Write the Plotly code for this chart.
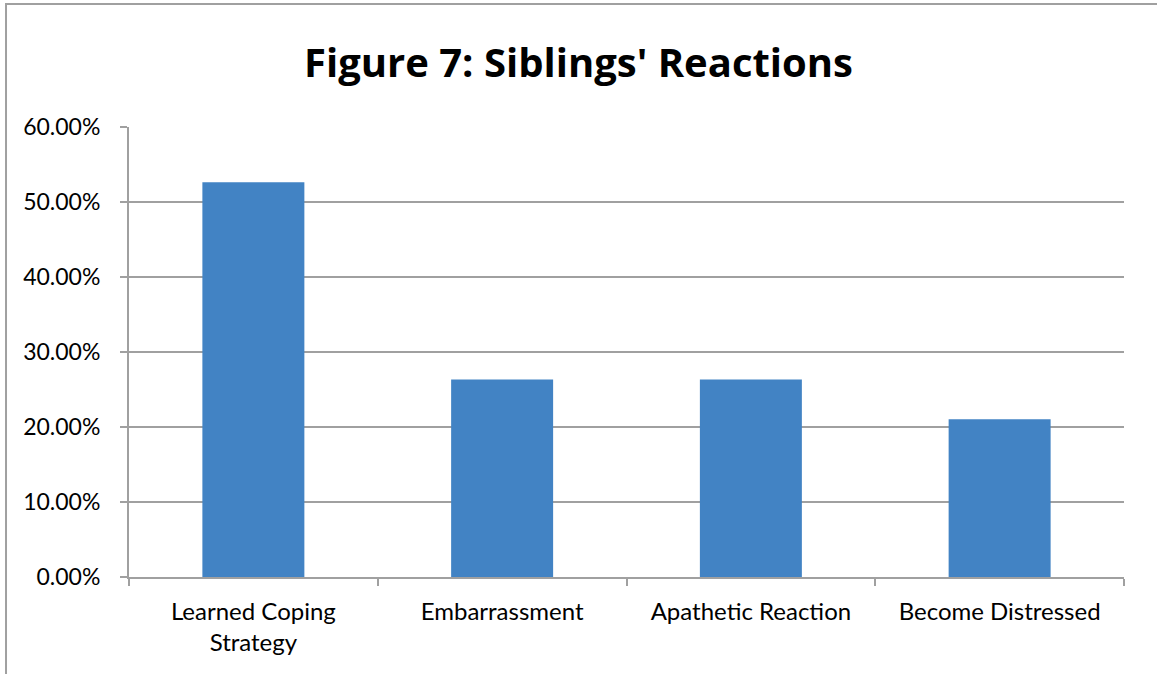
import plotly.graph_objects as go

categories = ["Learned Coping<br>Strategy", "Embarrassment", "Apathetic Reaction", "Become Distressed"]
shares = [0.5263, 0.2632, 0.2632, 0.2105]
y_ticks = [0, 0.1, 0.2, 0.3, 0.4, 0.5, 0.6]

fig = go.Figure(go.Bar(
    x=categories,
    y=shares,
    marker=dict(color="#4283c4", line=dict(width=0)),
))

fig.update_xaxes(
    showgrid=False,
    showline=True, linecolor="#a0a0a0", linewidth=2,
    ticks="outside", ticklen=7, tickcolor="#a0a0a0", tickwidth=2,
    tickson="boundaries",
    ticklabelstandoff=12,
    tickfont=dict(size=24, color="black"),
)

fig.update_yaxes(
    range=[0, 0.6],
    tickvals=y_ticks,
    tickformat=".2%",
    showgrid=True, gridcolor="#a0a0a0", gridwidth=2,
    zeroline=False,
    showline=True, linecolor="#a0a0a0", linewidth=2,
    ticks="outside", ticklen=7, tickcolor="#a0a0a0", tickwidth=2,
    ticklabelstandoff=15,
    tickfont=dict(size=23, color="black"),
)

fig.update_layout(
    width=1157, height=674,
    title=dict(text="<b>Figure 7: Siblings' Reactions</b>", x=0.5, xanchor="center",
               y=0.9065, yanchor="middle",
               font=dict(family="'Open Sans', sans-serif", size=40, color="black")),
    font=dict(family="Lato, 'Open Sans', sans-serif", color="black"),
    plot_bgcolor="white", paper_bgcolor="white",
    bargap=0.59,
    margin=dict(l=129, r=33, t=127, b=97),
    showlegend=False,
    shapes=[dict(type="rect", xref="paper", yref="paper",
                 x0=-0.1236, x1=1.04, y0=-0.23, y1=1.2733,
                 line=dict(color="#a0a0a0", width=2), layer="below")],
)

fig.write_html("out.html", config={"displayModeBar": False},
               post_script="document.body.style.margin='0';")
